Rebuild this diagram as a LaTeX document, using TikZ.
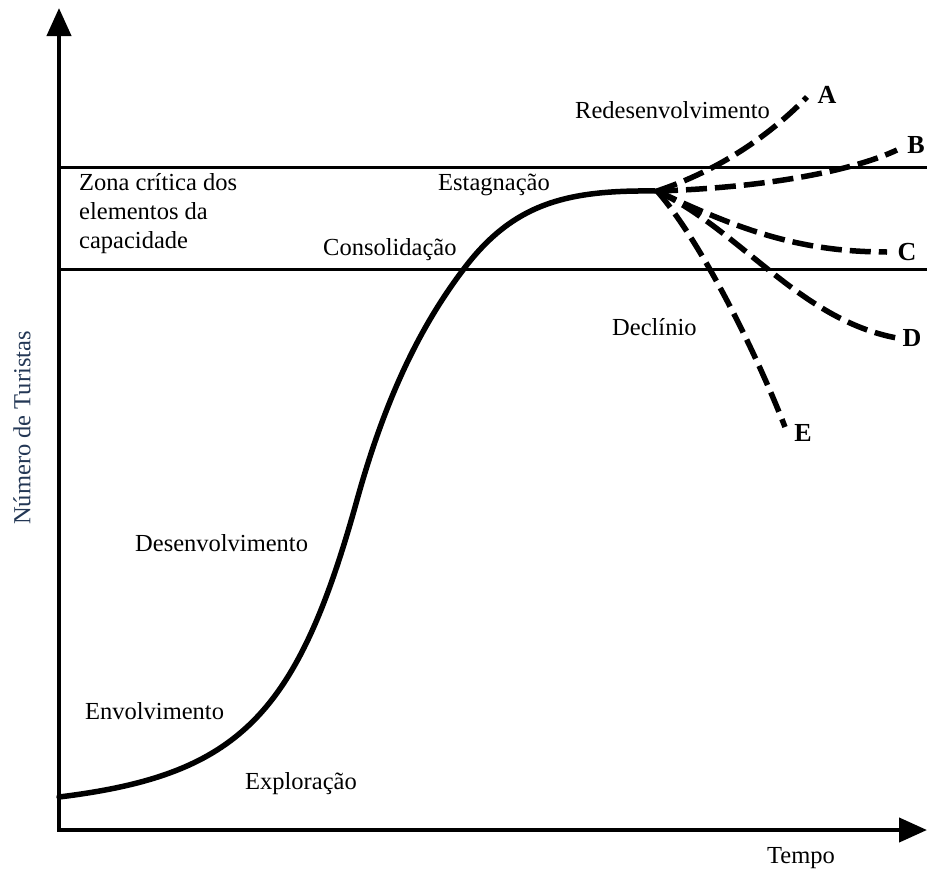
\documentclass[tikz,border=0pt]{standalone}
\usepackage{fontspec}
\setmainfont{Liberation Serif}
\usetikzlibrary{arrows.meta}
\definecolor{axislabel}{RGB}{35,55,85}
\tikzset{
  lbl/.style={font=\fontsize{24.5}{29}\selectfont, inner sep=0pt},
  letter/.style={font=\fontsize{26}{30}\selectfont\bfseries, inner sep=0pt},
  axis/.style={line width=4.2pt, -{Triangle[length=28pt,width=24pt]}},
  zone/.style={line width=3pt},
  maincurve/.style={line width=5.5pt, line cap=round},
  branch/.style={line width=5.5pt, dash pattern=on 21pt off 8pt},
}
\begin{document}
\begin{tikzpicture}[x=1pt,y=-1pt]
\useasboundingbox (0,0) rectangle (927,870);
\coordinate (origin) at (59,830);
\coordinate (ytop) at (59,8);
\coordinate (xend) at (927,830);
\draw[axis] (origin) -- (ytop);
\draw[axis] ([xshift=-2pt]origin) -- (xend);
\coordinate (z1l) at (59,167); \coordinate (z1r) at (927,167);
\coordinate (z2l) at (59,269); \coordinate (z2r) at (927,269);
\draw[zone] (z1l) -- (z1r);
\draw[zone] (z2l) -- (z2r);
\coordinate (start) at (59,797);
\coordinate (infl) at (357,500);
\coordinate (mid) at (463,270);
\coordinate (top) at (655,191);
\coordinate (peak) at (657,191);
\draw[maincurve] (start) .. controls (239,775) and (297,716) .. (infl)
  .. controls (387,392) and (423,323) .. (mid)
  .. controls (513,203) and (567,190) .. (top);
\coordinate (ea) at (807,97);
\coordinate (eb) at (897,150);
\coordinate (ec) at (887,252);
\coordinate (ed) at (897,338);
\coordinate (ee) at (785,427);
\draw[branch] (peak) .. controls (720,170) and (770,135) .. (ea);
\draw[branch] (peak) .. controls (760,188) and (850,172) .. (eb);
\draw[branch] (peak) .. controls (740,230) and (800,252) .. (ec);
\draw[branch] (peak) .. controls (740,230) and (800,320) .. (ed);
\draw[branch] (peak) .. controls (700,240) and (755,350) .. (ee);
\node[letter] (la) at (827,95) {A};
\node[letter] (lb) at (916,145) {B};
\node[letter] (lc) at (907,252) {C};
\node[letter] (ld) at (912,338) {D};
\node[letter] (le) at (803,433) {E};
\node[lbl, anchor=west, align=left] (zona) at (79,214) {Zona crítica dos\\elementos da\\capacidade};
\node[lbl, anchor=west] (estag) at (438,185) {Estagnação};
\node[lbl, anchor=west] (consol) at (323,250) {Consolidação};
\node[lbl, anchor=west] (redes) at (575,110) {Redesenvolvimento};
\node[lbl, anchor=west] (decl) at (612,327) {Declínio};
\node[lbl, anchor=west] (desenv) at (135,543) {Desenvolvimento};
\node[lbl, anchor=west] (envolv) at (85,711) {Envolvimento};
\node[lbl, anchor=west] (explor) at (245,784) {Exploração};
\node[lbl, anchor=west] (tempo) at (767,858) {Tempo};
\node[lbl, rotate=90, text=axislabel] (ylab) at (22,428) {Número de Turistas};
\end{tikzpicture}
\end{document}
